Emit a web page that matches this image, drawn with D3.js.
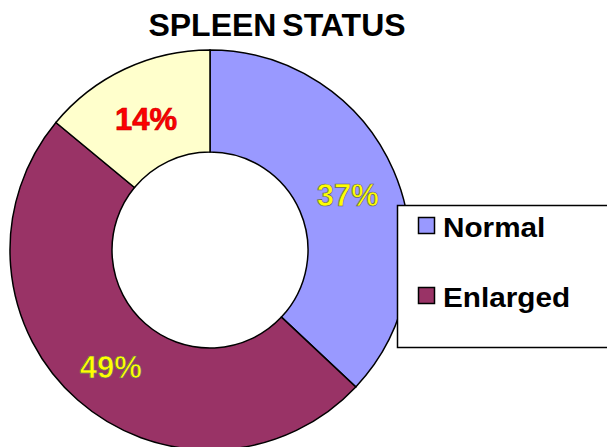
<!DOCTYPE html>
<html><head><meta charset="utf-8">
<script src="https://cdn.jsdelivr.net/npm/d3@7"></script>
<style>body{margin:0;background:#fff}svg{display:block}</style>
</head><body>
<script>
const categories = ["Normal", "Enlarged", "Other"];
const values = [37, 49, 14];
const colors = ["#9999FF", "#993366", "#FFFFCC"];
const labelColors = ["#FFFF00", "#FFFF00", "#FF0000"];
const legendItems = ["Normal", "Enlarged"];
const title = "SPLEEN STATUS";

const W = 607, H = 447;
const svg = d3.select("body").append("svg").attr("width", W).attr("height", H);
const font = "'Liberation Sans', Arial, sans-serif";

svg.append("text").attr("x", 277).attr("y", 36).attr("text-anchor", "middle")
  .attr("font-family", font).attr("font-weight", "bold").attr("font-size", 32)
  .attr("word-spacing", -3).text(title);

const cx = 210, cy = 250, R = 200, r = 98;
const pie = d3.pie().sort(null).value(d => d)(values);
const arc = d3.arc().innerRadius(r).outerRadius(R);
const labelArc = d3.arc().innerRadius(150).outerRadius(150);
const g = svg.append("g").attr("transform", `translate(${cx},${cy})`);
g.selectAll("path").data(pie).join("path")
  .attr("d", arc).attr("fill", (d, i) => colors[i])
  .attr("stroke", "#000").attr("stroke-width", 1.5);
g.selectAll("text").data(pie).join("text")
  .attr("transform", d => { const c = labelArc.centroid(d); return `translate(${c[0]},${c[1] + 5})`; })
  .attr("text-anchor", "middle").attr("dy", "0.35em")
  .attr("font-family", font).attr("font-weight", "bold").attr("font-size", 31)
  .attr("fill", (d, i) => labelColors[i])
  .attr("stroke", (d, i) => i < 2 ? "#666" : "#c00").attr("stroke-width", 0.7)
  .text(d => d.data + "%");

const lg = svg.append("g");
lg.append("rect").attr("x", 397.5).attr("y", 205.5).attr("width", 220).attr("height", 142)
  .attr("fill", "#fff").attr("stroke", "#000").attr("stroke-width", 1.5);
const ly = d3.scalePoint().domain(legendItems).range([226, 296]);
legendItems.forEach(name => {
  const i = categories.indexOf(name);
  lg.append("rect").attr("x", 418.5).attr("y", ly(name) - 8.5).attr("width", 16).attr("height", 16)
    .attr("fill", colors[i]).attr("stroke", "#000").attr("stroke-width", 1.5);
  lg.append("text").attr("transform", `translate(443,${ly(name) + 11}) scale(1.1,1)`)
    .attr("font-family", font).attr("font-size", 27).attr("font-weight", "bold")
    .text(name);
});
</script>
</body></html>
